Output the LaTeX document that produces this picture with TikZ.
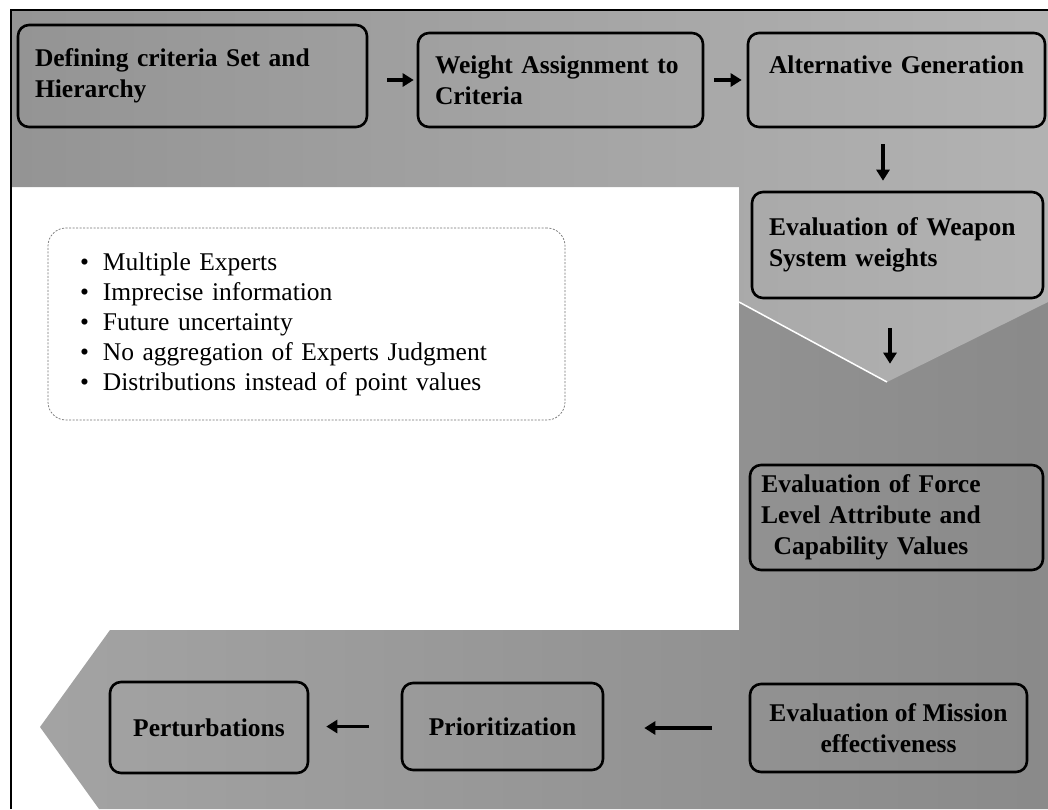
\documentclass[tikz,border=0pt]{standalone}
\usepackage{fontspec}
\setmainfont{Liberation Serif}
\usetikzlibrary{arrows.meta}

\begin{document}
\begin{tikzpicture}[x=1pt,y=-1pt,
  stage/.style={draw=black, line width=2.6pt, rounded corners=11pt,
    inner xsep=17pt, inner ysep=0pt,
    font=\bfseries\fontsize{25.5}{31}\selectfont},
  notes/.style={draw=black!55, line width=0.7pt, dash pattern=on 2pt off 1.5pt,
    rounded corners=18pt, fill=white, inner xsep=32pt, inner ysep=0pt,
    align=left, font=\fontsize{25.5}{30}\selectfont},
  flow/.style={line width=3.2pt, -{Triangle[length=11pt,width=13pt]}}]
\useasboundingbox (0,0) rectangle (1048,809);

% lower backdrop arrow: down the right side, then leftwards along the bottom
\shade[left color=black!36, right color=black!46]
  (739,300) -- (1048,300) -- (1048,809) -- (99,809) -- (40,727)
  -- (110,630) -- (739,630) -- cycle;
% upper backdrop arrow: across the top, then down into a chevron
\shade[left color=black!42, right color=black!30]
  (11,11) -- (1048,11) -- (1048,302) -- (887,382) -- (739,302)
  -- (739,187) -- (11,187) -- cycle;
\draw[white, line width=1.5pt] (739,302) -- (887,382);

% frame
\draw[line width=2pt] (11,809) -- (11,10) -- (1048,10);

% process stages
\node[stage, align=left, text width=315pt, minimum height=102pt] (b1) at (192.5,76)
  {Defining criteria Set and\\Hierarchy};
\node[stage, align=left, text width=251pt, minimum height=94pt] (b2) at (560.5,80)
  {Weight Assignment to\\Criteria};
\node[stage, align=center, text width=263pt, minimum height=94pt] (b3) at (896.5,80)
  {Alternative Generation\\\mbox{}};
\node[stage, align=left, text width=257pt, minimum height=106pt] (b4) at (897.5,245)
  {Evaluation of Weapon\\System weights};
\node[stage, align=left, text width=259pt, minimum height=105pt] (b5) at (896.5,517.5)
  {\makebox[208pt]{Evaluation of Force}\\\makebox[208pt]{Level Attribute and}\\\makebox[208pt]{Capability Values}};
\node[stage, align=center, minimum width=277pt, minimum height=88pt] (b6) at (888.5,728)
  {Evaluation of Mission\\effectiveness};
\node[stage, align=center, minimum width=201pt, minimum height=87pt] (b7) at (502.5,726.5)
  {Prioritization};
\node[stage, align=center, minimum width=198pt, minimum height=91pt] (b8) at (209,727.5)
  {Perturbations};

% characteristics of the approach
\node[notes, text width=453pt, minimum height=192pt] (notes) at (306.5,324)
  {\makebox[23pt][l]{\textbullet}Multiple Experts\\
   \makebox[23pt][l]{\textbullet}Imprecise information\\
   \makebox[23pt][l]{\textbullet}Future uncertainty\\
   \makebox[23pt][l]{\textbullet}No aggregation of Experts Judgment\\
   \makebox[23pt][l]{\textbullet}Distributions instead of point values};

% connectors
\draw[flow, shorten <=19pt, shorten >=3pt] (b1.east |- b2.west) -- (b2.west);
\draw[flow, shorten <=10pt, shorten >=5pt] (b2.east) -- (b3.west);
\draw[flow, shorten <=16pt, shorten >=10pt] ([xshift=-13.5pt]b3.south)
  -- ([xshift=-13.5pt]b3.south |- b4.north);
\draw[flow, shorten <=29pt, shorten >=100pt] ([xshift=-7.5pt]b4.south)
  -- ([xshift=-7.5pt]b4.south |- b5.north);
\draw[flow, shorten <=37pt, shorten >=40pt] (b6.west) -- (b6.west -| b7.east);
\draw[flow, shorten <=32pt, shorten >=17pt] (b7.west) -- (b7.west -| b8.east);
\end{tikzpicture}
\end{document}
